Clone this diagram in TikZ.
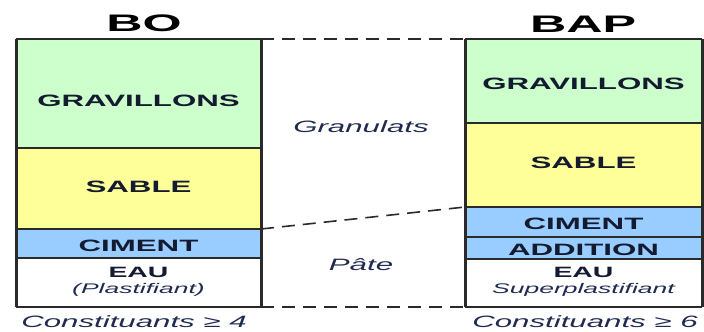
\documentclass[tikz,border=0pt]{standalone}
\usepackage{fontspec}
\setmainfont{Liberation Sans}
\newfontfamily\labfont[FakeStretch=1.9]{Liberation Sans}
\newfontfamily\ttlfont[FakeStretch=2.1]{Liberation Sans}
\definecolor{grav}{HTML}{CCFFCC}
\definecolor{sab}{HTML}{FFFF99}
\definecolor{cim}{HTML}{99CCFF}
\definecolor{ink}{HTML}{141A30}
\definecolor{inkb}{HTML}{1F2A50}
\definecolor{linec}{HTML}{2A2A2A}
\tikzset{
  hline/.style={draw=linec, line width=1.6bp},
  vline/.style={draw=linec, line width=3bp},
  dline/.style={draw=linec, line width=1.6bp, dash pattern=on 13bp off 8bp},
  lbl/.style={font=\labfont\bfseries\fontsize{16.5}{18}\selectfont, text=ink, inner sep=0pt, anchor=base},
  eau/.style={font=\labfont\bfseries\fontsize{15}{17}\selectfont, text=ink, inner sep=0pt, anchor=base},
  sub/.style={font=\labfont\itshape\fontsize{14}{16}\selectfont, text=inkb, inner sep=0pt, anchor=base},
  ital/.style={font=\labfont\itshape\fontsize{16.5}{18}\selectfont, text=inkb, inner sep=0pt, anchor=base},
  ttl/.style={font=\ttlfont\bfseries\fontsize{24}{26}\selectfont, text=black, inner sep=0pt, anchor=base}
}
\begin{document}
\begin{tikzpicture}[x=1bp,y=-1bp]
\useasboundingbox (0,0) rectangle (704,331);
% left column BO
\fill[grav] (16,39) rectangle (261,148);
\fill[sab] (16,148) rectangle (261,229);
\fill[cim] (16,229) rectangle (261,258);
\fill[white] (16,258) rectangle (261,307);
\foreach \y in {39,148,229,258,307} \draw[hline] (16,\y) -- (261,\y);
\draw[vline] (16,39) -- (16,307);
\draw[vline] (261,39) -- (261,307);
% right column BAP
\fill[grav] (465,39) rectangle (702,123);
\fill[sab] (465,123) rectangle (702,207);
\fill[cim] (465,207) rectangle (702,259);
\fill[white] (465,259) rectangle (702,307);
\foreach \y in {39,123,207,237,259,307} \draw[hline] (465,\y) -- (702,\y);
\draw[vline] (465,39) -- (465,307);
\draw[vline] (702,39) -- (702,307);
% named corners
\coordinate (lt) at (261,39);
\coordinate (lm) at (261,229);
\coordinate (lb) at (261,307);
\coordinate (rt) at (465,39);
\coordinate (rm) at (465,207);
\coordinate (rb) at (465,307);
\draw[dline] (lt) -- (rt);
\draw[dline] (lm) -- (rm);
\draw[dline] (lb) -- (rb);
% titles
\node[ttl] (bo) at (144,31) {BO};
\node[ttl] (bap) at (583,32) {BAP};
% left labels
\node[lbl] (g1) at (138.5,106) {GRAVILLONS};
\node[lbl] (s1) at (138.5,192) {SABLE};
\node[lbl] (c1) at (138.5,251) {CIMENT};
\node[eau] (e1) at (138.5,277) {EAU};
\node[sub] (p1) at (138.5,293) {(Plastifiant)};
% right labels
\node[lbl] (g2) at (583.5,89) {GRAVILLONS};
\node[lbl] (s2) at (583.5,168) {SABLE};
\node[lbl] (c2) at (583.5,229) {CIMENT};
\node[lbl] (a2) at (583.5,255) {ADDITION};
\node[eau] (e2) at (583.5,277) {EAU};
\node[sub] (p2) at (583.5,293) {Superplastifiant};
% middle labels
\node[ital] (gr) at (361,132) {Granulats};
\node[ital] (pa) at (361,270) {Pâte};
% bottom labels
\node[ital] (k1) at (134,327.5) {Constituants ≥ 4};
\node[ital] (k2) at (585,327.5) {Constituants ≥ 6};
\end{tikzpicture}
\end{document}
